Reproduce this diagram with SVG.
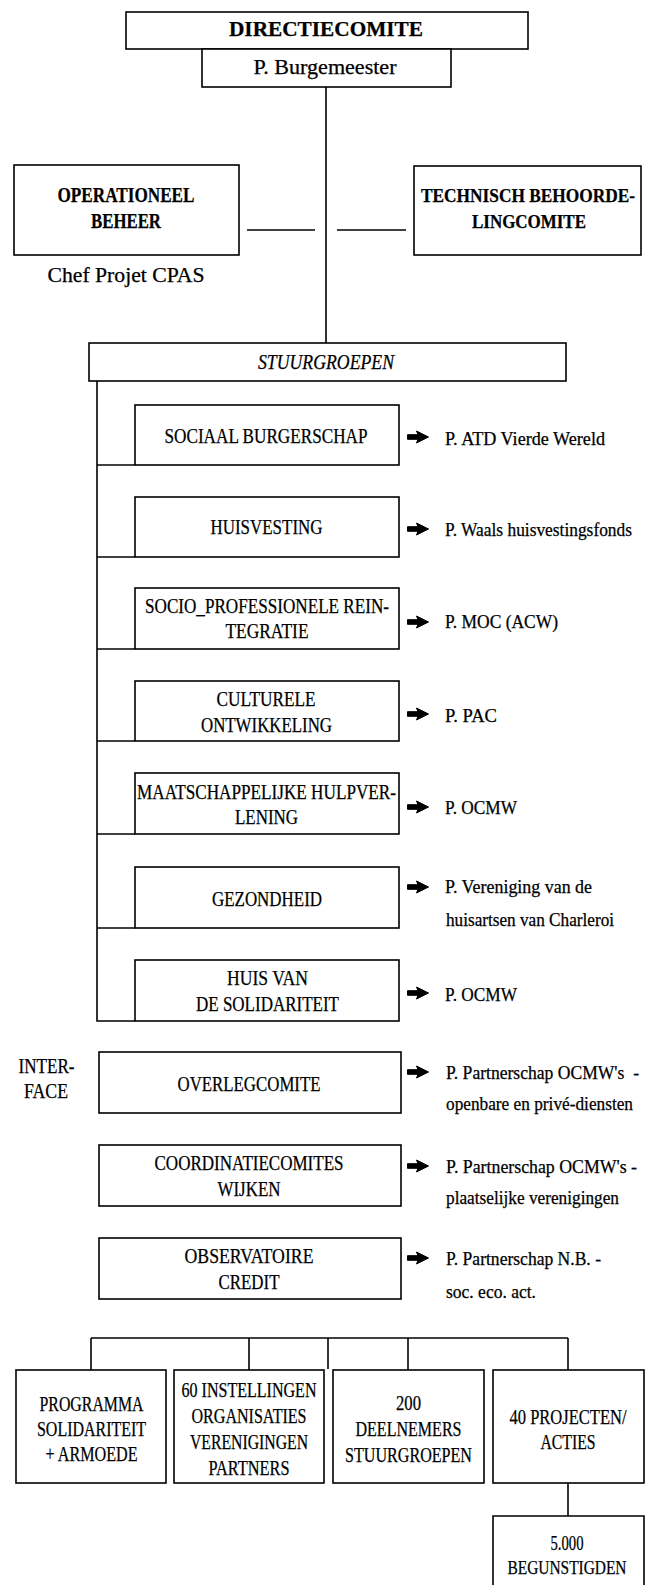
<svg xmlns="http://www.w3.org/2000/svg" xmlns:xlink="http://www.w3.org/1999/xlink" width="649" height="1586" viewBox="0 0 649 1586">
<style>
.box{fill:#fff;stroke:#000;stroke-width:1.6}
.ln{stroke:#000;stroke-width:1.6;fill:none}
.t{font-family:"Liberation Serif","Times New Roman",serif;font-size:20px;fill:#000;stroke:#000;stroke-width:0.25}
.r{font-size:18px}
.c{text-anchor:middle}
.b{font-weight:bold}
.i{font-style:italic}
.arr{fill:#000;stroke:#000;stroke-width:1;stroke-linejoin:round}
</style>
<defs>
<path id="arrow" class="arr" d="M0.5,-2.3 H11 L9.5,-6 L21.5,0 L9.5,6 L11,2.3 H0.5 Z"/>
</defs>
<rect width="649" height="1586" fill="#fff"/>

<g id="connectors">
<line class="ln" x1="326" y1="87" x2="326" y2="343"/>
<line class="ln" x1="247" y1="230" x2="315" y2="230"/>
<line class="ln" x1="337" y1="230" x2="406" y2="230"/>
<polyline class="ln" points="97,381 97,1021 135,1021"/>
<line class="ln" x1="97" y1="465" x2="135" y2="465"/>
<line class="ln" x1="97" y1="557" x2="135" y2="557"/>
<line class="ln" x1="97" y1="649" x2="135" y2="649"/>
<line class="ln" x1="97" y1="741" x2="135" y2="741"/>
<line class="ln" x1="97" y1="834" x2="135" y2="834"/>
<line class="ln" x1="97" y1="928" x2="135" y2="928"/>
<line class="ln" x1="91" y1="1338" x2="568" y2="1338"/>
<line class="ln" x1="91" y1="1338" x2="91" y2="1370"/>
<line class="ln" x1="249" y1="1338" x2="249" y2="1370"/>
<line class="ln" x1="328" y1="1338" x2="328" y2="1369"/>
<line class="ln" x1="408" y1="1338" x2="408" y2="1370"/>
<line class="ln" x1="568" y1="1338" x2="568" y2="1370"/>
<line class="ln" x1="568" y1="1483" x2="568" y2="1516"/>
<use xlink:href="#arrow" x="407" y="437"/>
<use xlink:href="#arrow" x="407" y="529"/>
<use xlink:href="#arrow" x="407" y="622"/>
<use xlink:href="#arrow" x="407" y="714"/>
<use xlink:href="#arrow" x="407" y="807"/>
<use xlink:href="#arrow" x="407" y="887"/>
<use xlink:href="#arrow" x="407" y="993"/>
<use xlink:href="#arrow" x="407" y="1072"/>
<use xlink:href="#arrow" x="407" y="1166"/>
<use xlink:href="#arrow" x="407" y="1258"/>
</g>

<g id="directiecomite">
<rect class="box" x="126" y="12" width="402" height="37"/>
<text class="t c b" x="326" y="36" textLength="194" lengthAdjust="spacingAndGlyphs">DIRECTIECOMITE</text>
</g>
<g id="burgemeester">
<rect class="box" x="202" y="49" width="249" height="38"/>
<text class="t c" x="325" y="74" textLength="143" lengthAdjust="spacingAndGlyphs">P. Burgemeester</text>
</g>
<g id="operationeel">
<rect class="box" x="14" y="165" width="225" height="90"/>
<text class="t c b" x="126" y="202" textLength="137" lengthAdjust="spacingAndGlyphs">OPERATIONEEL</text>
<text class="t c b" x="126" y="228" textLength="70" lengthAdjust="spacingAndGlyphs">BEHEER</text>
</g>
<g id="chef">
<text class="t c" x="126" y="282" textLength="157" lengthAdjust="spacingAndGlyphs">Chef Projet CPAS</text>
</g>
<g id="technisch">
<rect class="box" x="414" y="166" width="227" height="89"/>
<text class="t r c b" x="528" y="202" textLength="214" lengthAdjust="spacingAndGlyphs">TECHNISCH BEHOORDE-</text>
<text class="t r c b" x="529" y="228" textLength="114" lengthAdjust="spacingAndGlyphs">LINGCOMITE</text>
</g>
<g id="stuurgroepen">
<rect class="box" x="89" y="343" width="477" height="38"/>
<text class="t c i" x="326" y="369" textLength="136" lengthAdjust="spacingAndGlyphs">STUURGROEPEN</text>
</g>

<g id="sociaal">
<rect class="box" x="135" y="405" width="264" height="60"/>
<text class="t c" x="266" y="443" textLength="203" lengthAdjust="spacingAndGlyphs">SOCIAAL BURGERSCHAP</text>
<text class="t r" x="445" y="445" textLength="160" lengthAdjust="spacingAndGlyphs">P. ATD Vierde Wereld</text>
</g>
<g id="huisvesting">
<rect class="box" x="135" y="497" width="264" height="60"/>
<text class="t c" x="266.5" y="534" textLength="112" lengthAdjust="spacingAndGlyphs">HUISVESTING</text>
<text class="t r" x="445" y="536" textLength="187" lengthAdjust="spacingAndGlyphs">P. Waals huisvestingsfonds</text>
</g>
<g id="socio">
<rect class="box" x="135" y="588" width="264" height="61"/>
<text class="t c" x="267" y="613" textLength="244" lengthAdjust="spacingAndGlyphs">SOCIO_PROFESSIONELE REIN-</text>
<text class="t c" x="267" y="638" textLength="83" lengthAdjust="spacingAndGlyphs">TEGRATIE</text>
<text class="t r" x="445" y="628" textLength="113" lengthAdjust="spacingAndGlyphs">P. MOC (ACW)</text>
</g>
<g id="culturele">
<rect class="box" x="135" y="681" width="264" height="60"/>
<text class="t c" x="266" y="706" textLength="99" lengthAdjust="spacingAndGlyphs">CULTURELE</text>
<text class="t c" x="266.5" y="732" textLength="131" lengthAdjust="spacingAndGlyphs">ONTWIKKELING</text>
<text class="t r" x="445" y="722" textLength="52" lengthAdjust="spacingAndGlyphs">P. PAC</text>
</g>
<g id="maatschappelijke">
<rect class="box" x="135" y="773" width="264" height="61"/>
<text class="t c" x="266.5" y="799" textLength="259" lengthAdjust="spacingAndGlyphs">MAATSCHAPPELIJKE HULPVER-</text>
<text class="t c" x="266.5" y="824" textLength="63" lengthAdjust="spacingAndGlyphs">LENING</text>
<text class="t r" x="445" y="814" textLength="72" lengthAdjust="spacingAndGlyphs">P. OCMW</text>
</g>
<g id="gezondheid">
<rect class="box" x="135" y="867" width="264" height="61"/>
<text class="t c" x="267" y="906" textLength="110" lengthAdjust="spacingAndGlyphs">GEZONDHEID</text>
<text class="t r" x="445" y="893" textLength="147" lengthAdjust="spacingAndGlyphs">P. Vereniging van de</text>
<text class="t r" x="446" y="926" textLength="168" lengthAdjust="spacingAndGlyphs">huisartsen van Charleroi</text>
</g>
<g id="huisvan">
<rect class="box" x="135" y="960" width="264" height="61"/>
<text class="t c" x="267.5" y="985" textLength="81" lengthAdjust="spacingAndGlyphs">HUIS VAN</text>
<text class="t c" x="267.5" y="1011" textLength="143" lengthAdjust="spacingAndGlyphs">DE SOLIDARITEIT</text>
<text class="t r" x="445" y="1001" textLength="72" lengthAdjust="spacingAndGlyphs">P. OCMW</text>
</g>

<g id="interface">
<text class="t c" x="46.5" y="1073" textLength="56" lengthAdjust="spacingAndGlyphs">INTER-</text>
<text class="t c" x="46" y="1098" textLength="44" lengthAdjust="spacingAndGlyphs">FACE</text>
</g>
<g id="overlegcomite">
<rect class="box" x="99" y="1052" width="302" height="61"/>
<text class="t c" x="249" y="1091" textLength="143" lengthAdjust="spacingAndGlyphs">OVERLEGCOMITE</text>
<text class="t r" x="446" y="1079" textLength="193" lengthAdjust="spacingAndGlyphs" xml:space="preserve">P. Partnerschap OCMW's  -</text>
<text class="t r" x="446" y="1110" textLength="187" lengthAdjust="spacingAndGlyphs">openbare en privé-diensten</text>
</g>
<g id="coordinatiecomites">
<rect class="box" x="99" y="1145" width="302" height="61"/>
<text class="t c" x="249" y="1170" textLength="189" lengthAdjust="spacingAndGlyphs">COORDINATIECOMITES</text>
<text class="t c" x="249" y="1196" textLength="63" lengthAdjust="spacingAndGlyphs">WIJKEN</text>
<text class="t r" x="446" y="1173" textLength="191" lengthAdjust="spacingAndGlyphs">P. Partnerschap OCMW's -</text>
<text class="t r" x="446" y="1204" textLength="173" lengthAdjust="spacingAndGlyphs">plaatselijke verenigingen</text>
</g>
<g id="observatoire">
<rect class="box" x="99" y="1238" width="302" height="61"/>
<text class="t c" x="249" y="1263" textLength="129" lengthAdjust="spacingAndGlyphs">OBSERVATOIRE</text>
<text class="t c" x="249" y="1289" textLength="61" lengthAdjust="spacingAndGlyphs">CREDIT</text>
<text class="t r" x="446" y="1265" textLength="155" lengthAdjust="spacingAndGlyphs">P. Partnerschap N.B. -</text>
<text class="t r" x="446" y="1298" textLength="90" lengthAdjust="spacingAndGlyphs">soc. eco. act.</text>
</g>

<g id="programma">
<rect class="box" x="16" y="1370" width="150" height="113"/>
<text class="t c" x="91.5" y="1411" textLength="104" lengthAdjust="spacingAndGlyphs">PROGRAMMA</text>
<text class="t c" x="91.5" y="1436" textLength="109" lengthAdjust="spacingAndGlyphs">SOLIDARITEIT</text>
<text class="t c" x="91.5" y="1461" textLength="92" lengthAdjust="spacingAndGlyphs">+ ARMOEDE</text>
</g>
<g id="instellingen">
<rect class="box" x="174" y="1370" width="150" height="113"/>
<text class="t c" x="249" y="1397" textLength="135" lengthAdjust="spacingAndGlyphs">60 INSTELLINGEN</text>
<text class="t c" x="249" y="1423" textLength="115" lengthAdjust="spacingAndGlyphs">ORGANISATIES</text>
<text class="t c" x="249" y="1449" textLength="118" lengthAdjust="spacingAndGlyphs">VERENIGINGEN</text>
<text class="t c" x="249" y="1475" textLength="81" lengthAdjust="spacingAndGlyphs">PARTNERS</text>
</g>
<g id="deelnemers">
<rect class="box" x="333" y="1370" width="151" height="113"/>
<text class="t c" x="408.5" y="1410" textLength="25" lengthAdjust="spacingAndGlyphs">200</text>
<text class="t c" x="408.5" y="1436" textLength="106" lengthAdjust="spacingAndGlyphs">DEELNEMERS</text>
<text class="t c" x="408.5" y="1462" textLength="127" lengthAdjust="spacingAndGlyphs">STUURGROEPEN</text>
</g>
<g id="projecten">
<rect class="box" x="493" y="1370" width="151" height="113"/>
<text class="t c" x="568" y="1424" textLength="117" lengthAdjust="spacingAndGlyphs">40 PROJECTEN/</text>
<text class="t c" x="568" y="1449" textLength="55" lengthAdjust="spacingAndGlyphs">ACTIES</text>
</g>
<g id="begunstigden">
<path class="box" d="M493,1585 V1516 H644 V1585"/>
<text class="t c" x="567" y="1550" textLength="33" lengthAdjust="spacingAndGlyphs">5.000</text>
<text class="t r c" x="567" y="1574" textLength="119" lengthAdjust="spacingAndGlyphs">BEGUNSTIGDEN</text>
</g>
</svg>
